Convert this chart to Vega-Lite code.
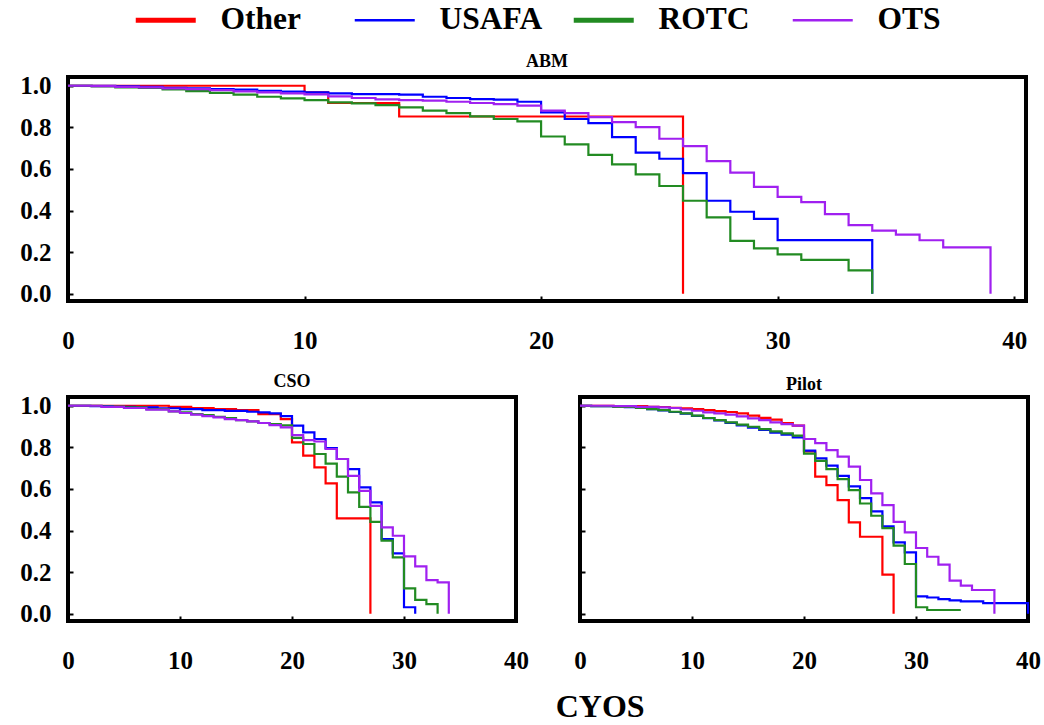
{
  "$schema": "https://vega.github.io/schema/vega-lite/v6.json",
  "background": "white",
  "padding": {"left": 17, "top": 4, "right": 14, "bottom": 2},
  "bounds": "flush",
  "spacing": 96,
  "title": {"text": "CYOS", "orient": "bottom", "anchor": "middle", "dx": 70, "offset": 17, "fontSize": 32, "font": "Liberation Serif", "fontWeight": "bold", "color": "black"},
  "config": {
    "font": "Liberation Serif",
    "view": {"stroke": "black", "strokeWidth": 4},
    "axis": {"labelFont": "Liberation Serif", "labelFontWeight": "bold", "labelFontSize": 25, "labelColor": "black", "domain": false, "grid": false, "ticks": true, "tickSize": -5, "tickColor": "black", "tickWidth": 2, "title": null},
    "title": {"font": "Liberation Serif", "fontWeight": "bold", "fontSize": 18, "offset": 3, "color": "black"},
    "legend": {"labelFont": "Liberation Serif", "labelFontWeight": "bold", "labelFontSize": 31.5, "labelColor": "black", "symbolType": "stroke", "symbolSize": 3600, "symbolStrokeWidth": 2.5, "labelOffset": 39, "columnPadding": 20, "padding": 0, "title": null}
  },
  "data": {"values": [
    {"panel":"ABM","group":"Other","cyos":0,"surv":1.0},
    {"panel":"ABM","group":"Other","cyos":10,"surv":0.968},
    {"panel":"ABM","group":"Other","cyos":11,"surv":0.917},
    {"panel":"ABM","group":"Other","cyos":14,"surv":0.852},
    {"panel":"ABM","group":"Other","cyos":26,"surv":0.0},

    {"panel":"ABM","group":"USAFA","cyos":0,"surv":1.0},
    {"panel":"ABM","group":"USAFA","cyos":1,"surv":0.999},
    {"panel":"ABM","group":"USAFA","cyos":2,"surv":0.997},
    {"panel":"ABM","group":"USAFA","cyos":3,"surv":0.995},
    {"panel":"ABM","group":"USAFA","cyos":4,"surv":0.99},
    {"panel":"ABM","group":"USAFA","cyos":5,"surv":0.987},
    {"panel":"ABM","group":"USAFA","cyos":6,"surv":0.984},
    {"panel":"ABM","group":"USAFA","cyos":7,"surv":0.981},
    {"panel":"ABM","group":"USAFA","cyos":8,"surv":0.976},
    {"panel":"ABM","group":"USAFA","cyos":9,"surv":0.972},
    {"panel":"ABM","group":"USAFA","cyos":10,"surv":0.968},
    {"panel":"ABM","group":"USAFA","cyos":11,"surv":0.963},
    {"panel":"ABM","group":"USAFA","cyos":12,"surv":0.96},
    {"panel":"ABM","group":"USAFA","cyos":14,"surv":0.957},
    {"panel":"ABM","group":"USAFA","cyos":15,"surv":0.947},
    {"panel":"ABM","group":"USAFA","cyos":16,"surv":0.941},
    {"panel":"ABM","group":"USAFA","cyos":17,"surv":0.936},
    {"panel":"ABM","group":"USAFA","cyos":18,"surv":0.933},
    {"panel":"ABM","group":"USAFA","cyos":19,"surv":0.923},
    {"panel":"ABM","group":"USAFA","cyos":20,"surv":0.872},
    {"panel":"ABM","group":"USAFA","cyos":21,"surv":0.84},
    {"panel":"ABM","group":"USAFA","cyos":22,"surv":0.82},
    {"panel":"ABM","group":"USAFA","cyos":23,"surv":0.753},
    {"panel":"ABM","group":"USAFA","cyos":24,"surv":0.678},
    {"panel":"ABM","group":"USAFA","cyos":25,"surv":0.649},
    {"panel":"ABM","group":"USAFA","cyos":26,"surv":0.58},
    {"panel":"ABM","group":"USAFA","cyos":27,"surv":0.447},
    {"panel":"ABM","group":"USAFA","cyos":28,"surv":0.394},
    {"panel":"ABM","group":"USAFA","cyos":29,"surv":0.36},
    {"panel":"ABM","group":"USAFA","cyos":30,"surv":0.258},
    {"panel":"ABM","group":"USAFA","cyos":34,"surv":0.0},

    {"panel":"ABM","group":"ROTC","cyos":0,"surv":1.0},
    {"panel":"ABM","group":"ROTC","cyos":1,"surv":0.997},
    {"panel":"ABM","group":"ROTC","cyos":2,"surv":0.992},
    {"panel":"ABM","group":"ROTC","cyos":3,"surv":0.989},
    {"panel":"ABM","group":"ROTC","cyos":4,"surv":0.982},
    {"panel":"ABM","group":"ROTC","cyos":5,"surv":0.974},
    {"panel":"ABM","group":"ROTC","cyos":6,"surv":0.966},
    {"panel":"ABM","group":"ROTC","cyos":7,"surv":0.957},
    {"panel":"ABM","group":"ROTC","cyos":8,"surv":0.947},
    {"panel":"ABM","group":"ROTC","cyos":9,"surv":0.939},
    {"panel":"ABM","group":"ROTC","cyos":10,"surv":0.931},
    {"panel":"ABM","group":"ROTC","cyos":11,"surv":0.92},
    {"panel":"ABM","group":"ROTC","cyos":12,"surv":0.915},
    {"panel":"ABM","group":"ROTC","cyos":13,"surv":0.907},
    {"panel":"ABM","group":"ROTC","cyos":14,"surv":0.896},
    {"panel":"ABM","group":"ROTC","cyos":15,"surv":0.88},
    {"panel":"ABM","group":"ROTC","cyos":16,"surv":0.868},
    {"panel":"ABM","group":"ROTC","cyos":17,"surv":0.853},
    {"panel":"ABM","group":"ROTC","cyos":18,"surv":0.84},
    {"panel":"ABM","group":"ROTC","cyos":19,"surv":0.829},
    {"panel":"ABM","group":"ROTC","cyos":20,"surv":0.756},
    {"panel":"ABM","group":"ROTC","cyos":21,"surv":0.718},
    {"panel":"ABM","group":"ROTC","cyos":22,"surv":0.668},
    {"panel":"ABM","group":"ROTC","cyos":23,"surv":0.622},
    {"panel":"ABM","group":"ROTC","cyos":24,"surv":0.574},
    {"panel":"ABM","group":"ROTC","cyos":25,"surv":0.518},
    {"panel":"ABM","group":"ROTC","cyos":26,"surv":0.447},
    {"panel":"ABM","group":"ROTC","cyos":27,"surv":0.367},
    {"panel":"ABM","group":"ROTC","cyos":28,"surv":0.254},
    {"panel":"ABM","group":"ROTC","cyos":29,"surv":0.218},
    {"panel":"ABM","group":"ROTC","cyos":30,"surv":0.189},
    {"panel":"ABM","group":"ROTC","cyos":31,"surv":0.163},
    {"panel":"ABM","group":"ROTC","cyos":33,"surv":0.112},
    {"panel":"ABM","group":"ROTC","cyos":34,"surv":0.0},

    {"panel":"ABM","group":"OTS","cyos":0,"surv":1.0},
    {"panel":"ABM","group":"OTS","cyos":1,"surv":0.998},
    {"panel":"ABM","group":"OTS","cyos":2,"surv":0.995},
    {"panel":"ABM","group":"OTS","cyos":3,"surv":0.992},
    {"panel":"ABM","group":"OTS","cyos":4,"surv":0.987},
    {"panel":"ABM","group":"OTS","cyos":5,"surv":0.984},
    {"panel":"ABM","group":"OTS","cyos":6,"surv":0.979},
    {"panel":"ABM","group":"OTS","cyos":7,"surv":0.973},
    {"panel":"ABM","group":"OTS","cyos":8,"surv":0.968},
    {"panel":"ABM","group":"OTS","cyos":9,"surv":0.963},
    {"panel":"ABM","group":"OTS","cyos":10,"surv":0.958},
    {"panel":"ABM","group":"OTS","cyos":11,"surv":0.949},
    {"panel":"ABM","group":"OTS","cyos":12,"surv":0.941},
    {"panel":"ABM","group":"OTS","cyos":13,"surv":0.934},
    {"panel":"ABM","group":"OTS","cyos":14,"surv":0.931},
    {"panel":"ABM","group":"OTS","cyos":15,"surv":0.928},
    {"panel":"ABM","group":"OTS","cyos":16,"surv":0.923},
    {"panel":"ABM","group":"OTS","cyos":17,"surv":0.917},
    {"panel":"ABM","group":"OTS","cyos":18,"surv":0.912},
    {"panel":"ABM","group":"OTS","cyos":19,"surv":0.904},
    {"panel":"ABM","group":"OTS","cyos":20,"surv":0.88},
    {"panel":"ABM","group":"OTS","cyos":21,"surv":0.868},
    {"panel":"ABM","group":"OTS","cyos":22,"surv":0.849},
    {"panel":"ABM","group":"OTS","cyos":23,"surv":0.825},
    {"panel":"ABM","group":"OTS","cyos":24,"surv":0.801},
    {"panel":"ABM","group":"OTS","cyos":25,"surv":0.745},
    {"panel":"ABM","group":"OTS","cyos":26,"surv":0.71},
    {"panel":"ABM","group":"OTS","cyos":27,"surv":0.638},
    {"panel":"ABM","group":"OTS","cyos":28,"surv":0.582},
    {"panel":"ABM","group":"OTS","cyos":29,"surv":0.514},
    {"panel":"ABM","group":"OTS","cyos":30,"surv":0.466},
    {"panel":"ABM","group":"OTS","cyos":31,"surv":0.44},
    {"panel":"ABM","group":"OTS","cyos":32,"surv":0.383},
    {"panel":"ABM","group":"OTS","cyos":33,"surv":0.33},
    {"panel":"ABM","group":"OTS","cyos":34,"surv":0.303},
    {"panel":"ABM","group":"OTS","cyos":35,"surv":0.284},
    {"panel":"ABM","group":"OTS","cyos":36,"surv":0.257},
    {"panel":"ABM","group":"OTS","cyos":37,"surv":0.223},
    {"panel":"ABM","group":"OTS","cyos":39,"surv":0.0},

    {"panel":"CSO","group":"Other","cyos":0,"surv":1.0},
    {"panel":"CSO","group":"Other","cyos":9,"surv":0.995},
    {"panel":"CSO","group":"Other","cyos":11,"surv":0.989},
    {"panel":"CSO","group":"Other","cyos":13,"surv":0.984},
    {"panel":"CSO","group":"Other","cyos":15,"surv":0.979},
    {"panel":"CSO","group":"Other","cyos":17,"surv":0.96},
    {"panel":"CSO","group":"Other","cyos":19,"surv":0.936},
    {"panel":"CSO","group":"Other","cyos":20,"surv":0.824},
    {"panel":"CSO","group":"Other","cyos":21,"surv":0.76},
    {"panel":"CSO","group":"Other","cyos":22,"surv":0.704},
    {"panel":"CSO","group":"Other","cyos":23,"surv":0.627},
    {"panel":"CSO","group":"Other","cyos":24,"surv":0.458},
    {"panel":"CSO","group":"Other","cyos":27,"surv":0.0},

    {"panel":"CSO","group":"USAFA","cyos":0,"surv":1.0},
    {"panel":"CSO","group":"USAFA","cyos":2,"surv":0.998},
    {"panel":"CSO","group":"USAFA","cyos":4,"surv":0.995},
    {"panel":"CSO","group":"USAFA","cyos":6,"surv":0.992},
    {"panel":"CSO","group":"USAFA","cyos":8,"surv":0.988},
    {"panel":"CSO","group":"USAFA","cyos":10,"surv":0.984},
    {"panel":"CSO","group":"USAFA","cyos":12,"surv":0.979},
    {"panel":"CSO","group":"USAFA","cyos":14,"surv":0.975},
    {"panel":"CSO","group":"USAFA","cyos":16,"surv":0.971},
    {"panel":"CSO","group":"USAFA","cyos":17,"surv":0.968},
    {"panel":"CSO","group":"USAFA","cyos":18,"surv":0.963},
    {"panel":"CSO","group":"USAFA","cyos":19,"surv":0.95},
    {"panel":"CSO","group":"USAFA","cyos":20,"surv":0.904},
    {"panel":"CSO","group":"USAFA","cyos":21,"surv":0.872},
    {"panel":"CSO","group":"USAFA","cyos":22,"surv":0.84},
    {"panel":"CSO","group":"USAFA","cyos":23,"surv":0.796},
    {"panel":"CSO","group":"USAFA","cyos":24,"surv":0.744},
    {"panel":"CSO","group":"USAFA","cyos":25,"surv":0.695},
    {"panel":"CSO","group":"USAFA","cyos":26,"surv":0.607},
    {"panel":"CSO","group":"USAFA","cyos":27,"surv":0.535},
    {"panel":"CSO","group":"USAFA","cyos":28,"surv":0.359},
    {"panel":"CSO","group":"USAFA","cyos":29,"surv":0.29},
    {"panel":"CSO","group":"USAFA","cyos":30,"surv":0.031},
    {"panel":"CSO","group":"USAFA","cyos":31,"surv":0.0},

    {"panel":"CSO","group":"ROTC","cyos":0,"surv":1.0},
    {"panel":"CSO","group":"ROTC","cyos":3,"surv":0.996},
    {"panel":"CSO","group":"ROTC","cyos":5,"surv":0.992},
    {"panel":"CSO","group":"ROTC","cyos":7,"surv":0.984},
    {"panel":"CSO","group":"ROTC","cyos":9,"surv":0.973},
    {"panel":"CSO","group":"ROTC","cyos":10,"surv":0.968},
    {"panel":"CSO","group":"ROTC","cyos":11,"surv":0.96},
    {"panel":"CSO","group":"ROTC","cyos":12,"surv":0.955},
    {"panel":"CSO","group":"ROTC","cyos":13,"surv":0.947},
    {"panel":"CSO","group":"ROTC","cyos":14,"surv":0.941},
    {"panel":"CSO","group":"ROTC","cyos":15,"surv":0.931},
    {"panel":"CSO","group":"ROTC","cyos":16,"surv":0.925},
    {"panel":"CSO","group":"ROTC","cyos":17,"surv":0.917},
    {"panel":"CSO","group":"ROTC","cyos":18,"surv":0.912},
    {"panel":"CSO","group":"ROTC","cyos":19,"surv":0.906},
    {"panel":"CSO","group":"ROTC","cyos":20,"surv":0.845},
    {"panel":"CSO","group":"ROTC","cyos":21,"surv":0.816},
    {"panel":"CSO","group":"ROTC","cyos":22,"surv":0.768},
    {"panel":"CSO","group":"ROTC","cyos":23,"surv":0.722},
    {"panel":"CSO","group":"ROTC","cyos":24,"surv":0.659},
    {"panel":"CSO","group":"ROTC","cyos":25,"surv":0.583},
    {"panel":"CSO","group":"ROTC","cyos":26,"surv":0.514},
    {"panel":"CSO","group":"ROTC","cyos":27,"surv":0.442},
    {"panel":"CSO","group":"ROTC","cyos":28,"surv":0.351},
    {"panel":"CSO","group":"ROTC","cyos":29,"surv":0.271},
    {"panel":"CSO","group":"ROTC","cyos":30,"surv":0.122},
    {"panel":"CSO","group":"ROTC","cyos":31,"surv":0.067},
    {"panel":"CSO","group":"ROTC","cyos":32,"surv":0.046},
    {"panel":"CSO","group":"ROTC","cyos":33,"surv":0.0},

    {"panel":"CSO","group":"OTS","cyos":0,"surv":1.0},
    {"panel":"CSO","group":"OTS","cyos":3,"surv":0.995},
    {"panel":"CSO","group":"OTS","cyos":5,"surv":0.989},
    {"panel":"CSO","group":"OTS","cyos":7,"surv":0.981},
    {"panel":"CSO","group":"OTS","cyos":9,"surv":0.973},
    {"panel":"CSO","group":"OTS","cyos":10,"surv":0.965},
    {"panel":"CSO","group":"OTS","cyos":11,"surv":0.957},
    {"panel":"CSO","group":"OTS","cyos":12,"surv":0.95},
    {"panel":"CSO","group":"OTS","cyos":13,"surv":0.944},
    {"panel":"CSO","group":"OTS","cyos":14,"surv":0.936},
    {"panel":"CSO","group":"OTS","cyos":15,"surv":0.931},
    {"panel":"CSO","group":"OTS","cyos":16,"surv":0.925},
    {"panel":"CSO","group":"OTS","cyos":17,"surv":0.917},
    {"panel":"CSO","group":"OTS","cyos":18,"surv":0.907},
    {"panel":"CSO","group":"OTS","cyos":19,"surv":0.896},
    {"panel":"CSO","group":"OTS","cyos":20,"surv":0.859},
    {"panel":"CSO","group":"OTS","cyos":21,"surv":0.835},
    {"panel":"CSO","group":"OTS","cyos":22,"surv":0.828},
    {"panel":"CSO","group":"OTS","cyos":23,"surv":0.792},
    {"panel":"CSO","group":"OTS","cyos":24,"surv":0.744},
    {"panel":"CSO","group":"OTS","cyos":25,"surv":0.663},
    {"panel":"CSO","group":"OTS","cyos":26,"surv":0.591},
    {"panel":"CSO","group":"OTS","cyos":27,"surv":0.519},
    {"panel":"CSO","group":"OTS","cyos":28,"surv":0.415},
    {"panel":"CSO","group":"OTS","cyos":29,"surv":0.375},
    {"panel":"CSO","group":"OTS","cyos":30,"surv":0.276},
    {"panel":"CSO","group":"OTS","cyos":31,"surv":0.228},
    {"panel":"CSO","group":"OTS","cyos":32,"surv":0.162},
    {"panel":"CSO","group":"OTS","cyos":33,"surv":0.151},
    {"panel":"CSO","group":"OTS","cyos":34,"surv":0.0},

    {"panel":"Pilot","group":"Other","cyos":0,"surv":1.0},
    {"panel":"Pilot","group":"Other","cyos":3,"surv":0.998},
    {"panel":"Pilot","group":"Other","cyos":6,"surv":0.995},
    {"panel":"Pilot","group":"Other","cyos":7,"surv":0.994},
    {"panel":"Pilot","group":"Other","cyos":8,"surv":0.99},
    {"panel":"Pilot","group":"Other","cyos":9,"surv":0.987},
    {"panel":"Pilot","group":"Other","cyos":10,"surv":0.984},
    {"panel":"Pilot","group":"Other","cyos":11,"surv":0.979},
    {"panel":"Pilot","group":"Other","cyos":12,"surv":0.974},
    {"panel":"Pilot","group":"Other","cyos":13,"surv":0.97},
    {"panel":"Pilot","group":"Other","cyos":14,"surv":0.963},
    {"panel":"Pilot","group":"Other","cyos":15,"surv":0.952},
    {"panel":"Pilot","group":"Other","cyos":16,"surv":0.942},
    {"panel":"Pilot","group":"Other","cyos":17,"surv":0.933},
    {"panel":"Pilot","group":"Other","cyos":18,"surv":0.916},
    {"panel":"Pilot","group":"Other","cyos":19,"surv":0.904},
    {"panel":"Pilot","group":"Other","cyos":20,"surv":0.78},
    {"panel":"Pilot","group":"Other","cyos":21,"surv":0.659},
    {"panel":"Pilot","group":"Other","cyos":22,"surv":0.618},
    {"panel":"Pilot","group":"Other","cyos":23,"surv":0.546},
    {"panel":"Pilot","group":"Other","cyos":24,"surv":0.439},
    {"panel":"Pilot","group":"Other","cyos":25,"surv":0.37},
    {"panel":"Pilot","group":"Other","cyos":27,"surv":0.188},
    {"panel":"Pilot","group":"Other","cyos":28,"surv":0.0},

    {"panel":"Pilot","group":"USAFA","cyos":0,"surv":1.0},
    {"panel":"Pilot","group":"USAFA","cyos":1,"surv":0.998},
    {"panel":"Pilot","group":"USAFA","cyos":3,"surv":0.995},
    {"panel":"Pilot","group":"USAFA","cyos":4,"surv":0.993},
    {"panel":"Pilot","group":"USAFA","cyos":5,"surv":0.989},
    {"panel":"Pilot","group":"USAFA","cyos":6,"surv":0.984},
    {"panel":"Pilot","group":"USAFA","cyos":7,"surv":0.978},
    {"panel":"Pilot","group":"USAFA","cyos":8,"surv":0.97},
    {"panel":"Pilot","group":"USAFA","cyos":9,"surv":0.962},
    {"panel":"Pilot","group":"USAFA","cyos":10,"surv":0.951},
    {"panel":"Pilot","group":"USAFA","cyos":11,"surv":0.94},
    {"panel":"Pilot","group":"USAFA","cyos":12,"surv":0.929},
    {"panel":"Pilot","group":"USAFA","cyos":13,"surv":0.918},
    {"panel":"Pilot","group":"USAFA","cyos":14,"surv":0.906},
    {"panel":"Pilot","group":"USAFA","cyos":15,"surv":0.895},
    {"panel":"Pilot","group":"USAFA","cyos":16,"surv":0.884},
    {"panel":"Pilot","group":"USAFA","cyos":17,"surv":0.871},
    {"panel":"Pilot","group":"USAFA","cyos":18,"surv":0.861},
    {"panel":"Pilot","group":"USAFA","cyos":19,"surv":0.848},
    {"panel":"Pilot","group":"USAFA","cyos":20,"surv":0.784},
    {"panel":"Pilot","group":"USAFA","cyos":21,"surv":0.747},
    {"panel":"Pilot","group":"USAFA","cyos":22,"surv":0.712},
    {"panel":"Pilot","group":"USAFA","cyos":23,"surv":0.663},
    {"panel":"Pilot","group":"USAFA","cyos":24,"surv":0.612},
    {"panel":"Pilot","group":"USAFA","cyos":25,"surv":0.556},
    {"panel":"Pilot","group":"USAFA","cyos":26,"surv":0.492},
    {"panel":"Pilot","group":"USAFA","cyos":27,"surv":0.42},
    {"panel":"Pilot","group":"USAFA","cyos":28,"surv":0.343},
    {"panel":"Pilot","group":"USAFA","cyos":29,"surv":0.295},
    {"panel":"Pilot","group":"USAFA","cyos":30,"surv":0.083},
    {"panel":"Pilot","group":"USAFA","cyos":31,"surv":0.078},
    {"panel":"Pilot","group":"USAFA","cyos":32,"surv":0.07},
    {"panel":"Pilot","group":"USAFA","cyos":33,"surv":0.064},
    {"panel":"Pilot","group":"USAFA","cyos":34,"surv":0.059},
    {"panel":"Pilot","group":"USAFA","cyos":36,"surv":0.051},
    {"panel":"Pilot","group":"USAFA","cyos":40,"surv":0.0},

    {"panel":"Pilot","group":"ROTC","cyos":0,"surv":1.0},
    {"panel":"Pilot","group":"ROTC","cyos":1,"surv":0.998},
    {"panel":"Pilot","group":"ROTC","cyos":3,"surv":0.995},
    {"panel":"Pilot","group":"ROTC","cyos":4,"surv":0.994},
    {"panel":"Pilot","group":"ROTC","cyos":5,"surv":0.989},
    {"panel":"Pilot","group":"ROTC","cyos":6,"surv":0.984},
    {"panel":"Pilot","group":"ROTC","cyos":7,"surv":0.979},
    {"panel":"Pilot","group":"ROTC","cyos":8,"surv":0.971},
    {"panel":"Pilot","group":"ROTC","cyos":9,"surv":0.963},
    {"panel":"Pilot","group":"ROTC","cyos":10,"surv":0.952},
    {"panel":"Pilot","group":"ROTC","cyos":11,"surv":0.941},
    {"panel":"Pilot","group":"ROTC","cyos":12,"surv":0.931},
    {"panel":"Pilot","group":"ROTC","cyos":13,"surv":0.92},
    {"panel":"Pilot","group":"ROTC","cyos":14,"surv":0.909},
    {"panel":"Pilot","group":"ROTC","cyos":15,"surv":0.899},
    {"panel":"Pilot","group":"ROTC","cyos":16,"surv":0.888},
    {"panel":"Pilot","group":"ROTC","cyos":17,"surv":0.877},
    {"panel":"Pilot","group":"ROTC","cyos":18,"surv":0.867},
    {"panel":"Pilot","group":"ROTC","cyos":19,"surv":0.856},
    {"panel":"Pilot","group":"ROTC","cyos":20,"surv":0.77},
    {"panel":"Pilot","group":"ROTC","cyos":21,"surv":0.735},
    {"panel":"Pilot","group":"ROTC","cyos":22,"surv":0.695},
    {"panel":"Pilot","group":"ROTC","cyos":23,"surv":0.647},
    {"panel":"Pilot","group":"ROTC","cyos":24,"surv":0.594},
    {"panel":"Pilot","group":"ROTC","cyos":25,"surv":0.53},
    {"panel":"Pilot","group":"ROTC","cyos":26,"surv":0.471},
    {"panel":"Pilot","group":"ROTC","cyos":27,"surv":0.412},
    {"panel":"Pilot","group":"ROTC","cyos":28,"surv":0.327},
    {"panel":"Pilot","group":"ROTC","cyos":29,"surv":0.239},
    {"panel":"Pilot","group":"ROTC","cyos":30,"surv":0.031},
    {"panel":"Pilot","group":"ROTC","cyos":31,"surv":0.018},
    {"panel":"Pilot","group":"ROTC","cyos":34,"surv":0.018},

    {"panel":"Pilot","group":"OTS","cyos":0,"surv":1.0},
    {"panel":"Pilot","group":"OTS","cyos":3,"surv":0.998},
    {"panel":"Pilot","group":"OTS","cyos":5,"surv":0.995},
    {"panel":"Pilot","group":"OTS","cyos":7,"surv":0.992},
    {"panel":"Pilot","group":"OTS","cyos":8,"surv":0.989},
    {"panel":"Pilot","group":"OTS","cyos":9,"surv":0.982},
    {"panel":"Pilot","group":"OTS","cyos":10,"surv":0.976},
    {"panel":"Pilot","group":"OTS","cyos":11,"surv":0.968},
    {"panel":"Pilot","group":"OTS","cyos":12,"surv":0.963},
    {"panel":"Pilot","group":"OTS","cyos":13,"surv":0.957},
    {"panel":"Pilot","group":"OTS","cyos":14,"surv":0.949},
    {"panel":"Pilot","group":"OTS","cyos":15,"surv":0.939},
    {"panel":"Pilot","group":"OTS","cyos":16,"surv":0.931},
    {"panel":"Pilot","group":"OTS","cyos":17,"surv":0.92},
    {"panel":"Pilot","group":"OTS","cyos":18,"surv":0.912},
    {"panel":"Pilot","group":"OTS","cyos":19,"surv":0.904},
    {"panel":"Pilot","group":"OTS","cyos":20,"surv":0.84},
    {"panel":"Pilot","group":"OTS","cyos":21,"surv":0.82},
    {"panel":"Pilot","group":"OTS","cyos":22,"surv":0.787},
    {"panel":"Pilot","group":"OTS","cyos":23,"surv":0.755},
    {"panel":"Pilot","group":"OTS","cyos":24,"surv":0.707},
    {"panel":"Pilot","group":"OTS","cyos":25,"surv":0.643},
    {"panel":"Pilot","group":"OTS","cyos":26,"surv":0.579},
    {"panel":"Pilot","group":"OTS","cyos":27,"surv":0.522},
    {"panel":"Pilot","group":"OTS","cyos":28,"surv":0.442},
    {"panel":"Pilot","group":"OTS","cyos":29,"surv":0.391},
    {"panel":"Pilot","group":"OTS","cyos":30,"surv":0.316},
    {"panel":"Pilot","group":"OTS","cyos":31,"surv":0.274},
    {"panel":"Pilot","group":"OTS","cyos":32,"surv":0.236},
    {"panel":"Pilot","group":"OTS","cyos":33,"surv":0.159},
    {"panel":"Pilot","group":"OTS","cyos":34,"surv":0.135},
    {"panel":"Pilot","group":"OTS","cyos":35,"surv":0.114},
    {"panel":"Pilot","group":"OTS","cyos":37,"surv":0.0}
  ]},
  "vconcat": [
    {
      "title": "ABM",
      "width": 958,
      "height": 224,
      "transform": [{"filter": "datum.panel == 'ABM'"}],
      "mark": {"type": "line", "interpolate": "step-after", "strokeWidth": 2.2},
      "encoding": {
        "x": {"field": "cyos", "type": "quantitative", "scale": {"domain": [0, 40.5], "nice": false, "zero": false}, "axis": {"values": [0, 10, 20, 30, 40], "labelPadding": 32, "labelFlush": false}},
        "y": {"field": "surv", "type": "quantitative", "scale": {"domain": [-0.035, 1.042], "nice": false, "zero": false}, "axis": {"values": [0, 0.2, 0.4, 0.6, 0.8, 1.0], "format": ".1f", "labelPadding": 22}},
        "color": {"field": "group", "type": "nominal", "scale": {"domain": ["Other", "USAFA", "ROTC", "OTS"], "range": ["#FF0000", "#0000FF", "#228B22", "#A020F0"]},
          "legend": {"orient": "none", "direction": "horizontal", "columns": 4, "gridAlign": "all", "legendX": 82, "legendY": -73,
            "encode": {"symbols": {"update": {"strokeWidth": {"signal": "datum.value === 'Other' || datum.value === 'ROTC' ? 5 : 2.5"}}}}}}
      }
    },
    {
      "hconcat": [
        {
          "title": "CSO",
          "width": 448,
          "height": 224,
          "transform": [{"filter": "datum.panel == 'CSO'"}],
          "mark": {"type": "line", "interpolate": "step-after", "strokeWidth": 2.2},
          "encoding": {
            "x": {"field": "cyos", "type": "quantitative", "scale": {"domain": [0, 40], "nice": false, "zero": false}, "axis": {"values": [0, 10, 20, 30, 40], "labelPadding": 32, "labelFlush": false}},
            "y": {"field": "surv", "type": "quantitative", "scale": {"domain": [-0.035, 1.042], "nice": false, "zero": false}, "axis": {"values": [0, 0.2, 0.4, 0.6, 0.8, 1.0], "format": ".1f", "labelPadding": 22}},
            "color": {"field": "group", "type": "nominal", "scale": {"domain": ["Other", "USAFA", "ROTC", "OTS"], "range": ["#FF0000", "#0000FF", "#228B22", "#A020F0"]}, "legend": null}
          }
        },
        {
          "title": "Pilot",
          "width": 448,
          "height": 224,
          "transform": [{"filter": "datum.panel == 'Pilot'"}],
          "mark": {"type": "line", "interpolate": "step-after", "strokeWidth": 2.2},
          "encoding": {
            "x": {"field": "cyos", "type": "quantitative", "scale": {"domain": [0, 40], "nice": false, "zero": false}, "axis": {"values": [0, 10, 20, 30, 40], "labelPadding": 32, "labelFlush": false}},
            "y": {"field": "surv", "type": "quantitative", "scale": {"domain": [-0.035, 1.042], "nice": false, "zero": false}, "axis": {"values": [0, 0.2, 0.4, 0.6, 0.8, 1.0], "labels": false}},
            "color": {"field": "group", "type": "nominal", "scale": {"domain": ["Other", "USAFA", "ROTC", "OTS"], "range": ["#FF0000", "#0000FF", "#228B22", "#A020F0"]}, "legend": null}
          }
        }
      ],
      "spacing": 64,
      "bounds": "flush"
    }
  ]
}
